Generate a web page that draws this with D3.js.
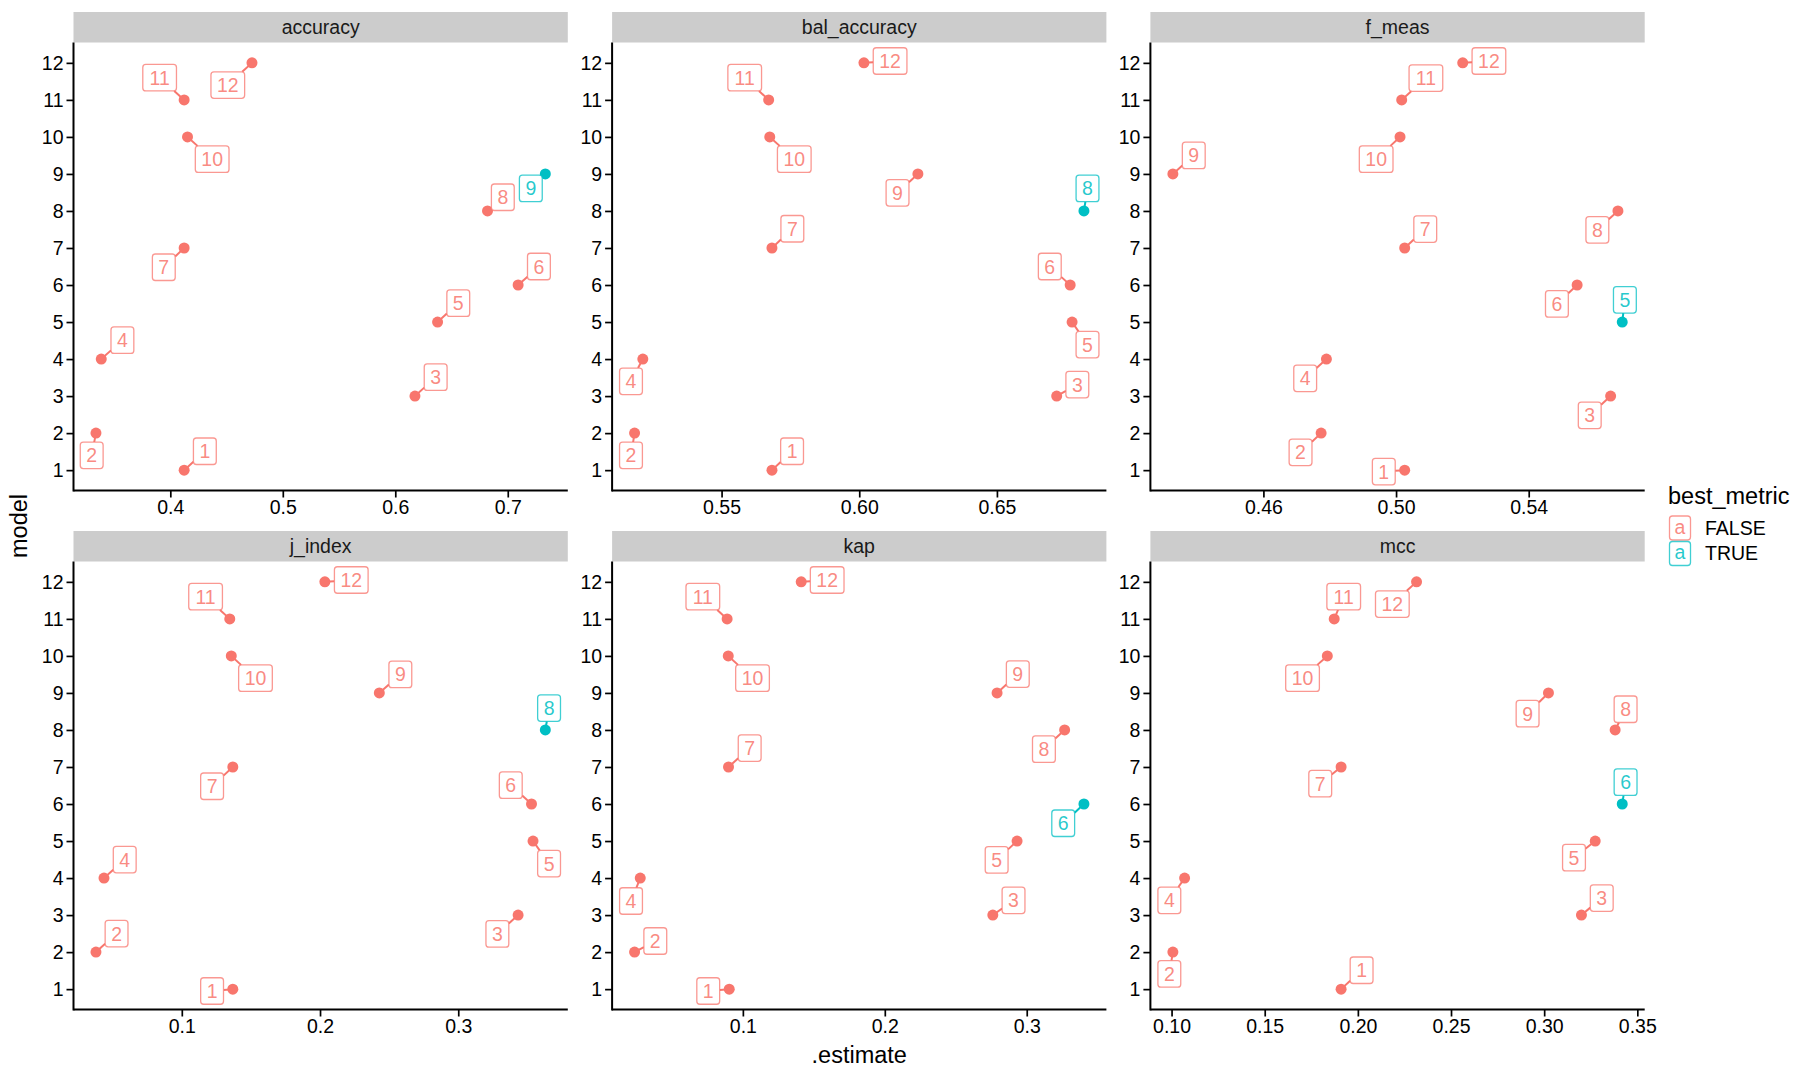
<!DOCTYPE html>
<html>
<head>
<meta charset="utf-8">
<script src="https://cdn.jsdelivr.net/npm/d3@7"></script>
<style>
  html, body { margin: 0; padding: 0; background: #ffffff; }
  svg { display: block; font-family: "Liberation Sans", Arial, Helvetica, sans-serif; }
</style>
</head>
<body>
<svg id="chart" width="1800" height="1080"></svg>
<script>
// ---------------- DATA ----------------
const metrics = ["accuracy", "bal_accuracy", "f_meas", "j_index", "kap", "mcc"];
const models = [1, 2, 3, 4, 5, 6, 7, 8, 9, 10, 11, 12];

// .estimate per model (1..12), per metric
const accuracy     = [0.4123, 0.3339, 0.6175, 0.3386, 0.6376, 0.7092, 0.4123, 0.6820, 0.7334, 0.4153, 0.4123, 0.4726];
const bal_accuracy = [0.5683, 0.5184, 0.6717, 0.5214, 0.6773, 0.6766, 0.5683, 0.6816, 0.6213, 0.5675, 0.5671, 0.6017];
const f_meas       = [0.5026, 0.4774, 0.5647, 0.4790, 0.5682, 0.5546, 0.5026, 0.5669, 0.4327, 0.5012, 0.5017, 0.5201];
const j_index      = [0.1369, 0.0379, 0.3433, 0.0437, 0.3541, 0.3530, 0.1369, 0.3630, 0.2429, 0.1358, 0.1347, 0.2035];
const kap          = [0.0904, 0.0237, 0.2761, 0.0277, 0.2932, 0.3403, 0.0899, 0.3267, 0.2791, 0.0897, 0.0889, 0.1411];
const mcc          = [0.1910, 0.1007, 0.3200, 0.1070, 0.3274, 0.3419, 0.1910, 0.3381, 0.3023, 0.1836, 0.1873, 0.2315];

// repelled label anchor, in data units (estimate, model)
const accuracyLabX     = [0.4307, 0.3301, 0.6359, 0.3574, 0.6560, 0.7277, 0.3942, 0.6956, 0.7205, 0.4372, 0.3905, 0.4511];
const accuracyLabY     = [1.51, 1.40, 3.51, 4.51, 5.51, 6.50, 6.48, 8.37, 8.61, 9.40, 11.60, 11.40];
const bal_accuracyLabX = [0.5756, 0.5171, 0.6792, 0.5171, 0.6829, 0.6692, 0.5757, 0.6829, 0.6139, 0.5764, 0.5584, 0.6112];
const bal_accuracyLabY = [1.51, 1.40, 3.31, 3.40, 4.39, 6.50, 7.52, 8.61, 8.49, 9.40, 11.60, 12.05];
const f_measLabX       = [0.4963, 0.4712, 0.5584, 0.4726, 0.5690, 0.5485, 0.5088, 0.5607, 0.4390, 0.4940, 0.5090, 0.5280];
const f_measLabY       = [0.96, 1.48, 2.48, 3.48, 5.60, 5.49, 7.51, 7.49, 9.50, 9.40, 11.59, 12.05];
const j_indexLabX      = [0.1219, 0.0528, 0.3283, 0.0587, 0.3657, 0.3380, 0.1219, 0.3657, 0.2581, 0.1533, 0.1172, 0.2226];
const j_indexLabY      = [0.95, 2.50, 2.49, 4.50, 4.39, 6.51, 6.48, 8.59, 9.50, 9.40, 11.60, 12.05];
const kapLabX          = [0.0756, 0.0383, 0.2907, 0.0212, 0.2788, 0.3257, 0.1048, 0.3121, 0.2937, 0.1068, 0.0718, 0.1594];
const kapLabY          = [0.95, 2.30, 3.40, 3.38, 4.49, 5.48, 7.51, 7.48, 9.51, 9.40, 11.60, 12.05];
const mccLabX          = [0.2020, 0.0988, 0.3309, 0.0988, 0.3160, 0.3437, 0.1798, 0.3437, 0.2911, 0.1703, 0.1924, 0.2185];
const mccLabY          = [1.51, 1.41, 3.46, 3.40, 4.55, 6.59, 6.55, 8.56, 8.44, 9.40, 11.60, 11.40];

// x tick values per panel
const accuracyTicks     = [0.4, 0.5, 0.6, 0.7];
const bal_accuracyTicks = [0.55, 0.60, 0.65];
const f_measTicks       = [0.46, 0.50, 0.54];
const j_indexTicks      = [0.1, 0.2, 0.3];
const kapTicks          = [0.1, 0.2, 0.3];
const mccTicks          = [0.10, 0.15, 0.20, 0.25, 0.30, 0.35];
const tickDecimals      = [1, 2, 2, 1, 1, 2];
const yTicks = models;

const legendLevels = ["FALSE", "TRUE"];
const legendColors = ["#F8766D", "#00BFC4"];

// ---------------- TABLE ----------------
const estimates = {accuracy, bal_accuracy, f_meas, j_index, kap, mcc};
const labX = {accuracy: accuracyLabX, bal_accuracy: bal_accuracyLabX, f_meas: f_measLabX, j_index: j_indexLabX, kap: kapLabX, mcc: mccLabX};
const labY = {accuracy: accuracyLabY, bal_accuracy: bal_accuracyLabY, f_meas: f_measLabY, j_index: j_indexLabY, kap: kapLabY, mcc: mccLabY};
const xTicks = {accuracy: accuracyTicks, bal_accuracy: bal_accuracyTicks, f_meas: f_measTicks, j_index: j_indexTicks, kap: kapTicks, mcc: mccTicks};

// ---------------- LAYOUT ----------------
const svg = d3.select("#chart");
const colLeft = [73.5, 612.1, 1150.4];
const panelW = 494.3;
const stripTop = [12, 531];
const stripH = 30.5;
const plotH = 448;
const tickFont = 19.5;
const titleFont = 23.5;
const labelFont = 19.5;
const color = d3.scaleOrdinal().domain(legendLevels).range(legendColors);

metrics.forEach((m, i) => {
  const col = i % 3, row = Math.floor(i / 3);
  const x0 = colLeft[col];
  const top = stripTop[row] + stripH;
  const bottom = top + plotH;
  const vals = estimates[m];
  const [mn, mx] = d3.extent(vals);
  const pad = (mx - mn) * 0.05;
  const x = d3.scaleLinear().domain([mn - pad, mx + pad]).range([x0, x0 + panelW]);
  const y = d3.scaleLinear().domain([0.45, 12.55]).range([bottom, top]);
  const g = svg.append("g");

  // strip
  g.append("rect").attr("x", x0).attr("y", stripTop[row]).attr("width", panelW).attr("height", stripH)
    .attr("fill", "#CCCCCC");
  g.append("text").attr("x", x0 + panelW / 2).attr("y", stripTop[row] + stripH / 2).attr("dy", "0.35em")
    .attr("text-anchor", "middle").attr("font-size", tickFont).attr("fill", "#1A1A1A").text(m);

  // axes
  const xAxis = d3.axisBottom(x).tickValues(xTicks[m]).tickSize(7).tickPadding(3)
    .tickFormat(d3.format("." + tickDecimals[i] + "f"));
  const gx = g.append("g").attr("transform", `translate(0,${bottom})`).call(xAxis);
  const yAxis = d3.axisLeft(y).tickValues(yTicks).tickSize(7).tickPadding(3).tickFormat(d3.format("d"));
  const gy = g.append("g").attr("transform", `translate(${x0},0)`).call(yAxis);
  [gx, gy].forEach(ax => {
    ax.select(".domain").remove();
    ax.selectAll(".tick line").attr("stroke", "#000").attr("stroke-width", 1.7);
    ax.selectAll(".tick text").attr("font-size", tickFont).attr("fill", "#000")
      .attr("font-family", "Liberation Sans, Arial, sans-serif");
  });
  g.append("line").attr("x1", x0).attr("x2", x0 + panelW).attr("y1", bottom).attr("y2", bottom)
    .attr("stroke", "#000").attr("stroke-width", 2);
  g.append("line").attr("x1", x0).attr("x2", x0).attr("y1", top).attr("y2", bottom + 1)
    .attr("stroke", "#000").attr("stroke-width", 2);

  // data rows
  const rows = models.map((mod, k) => ({
    model: mod, est: vals[k], lx: labX[m][k], ly: labY[m][k],
    best: vals[k] === mx ? "TRUE" : "FALSE"
  }));

  const boxH = 26.5, padX = 6;
  rows.forEach(r => {
    const txt = String(r.model);
    const w = txt.length * labelFont * 0.556 + 2 * padX;
    r.bw = w; r.bh = boxH;
    r.cx = x(r.lx); r.cy = y(r.ly);
    r.px = x(r.est); r.py = y(r.model);
    const dx = r.cx - r.px, dy = r.cy - r.py;
    const hx = w / 2, hy = boxH / 2;
    const tx = Math.abs(dx) > 1e-6 ? 1 - hx / Math.abs(dx) : -Infinity;
    const ty = Math.abs(dy) > 1e-6 ? 1 - hy / Math.abs(dy) : -Infinity;
    const t = Math.max(tx, ty);
    r.inside = t <= 0;
    r.ex = r.px + dx * t; r.ey = r.py + dy * t;
  });

  // segments
  g.selectAll(".seg").data(rows.filter(r => !r.inside)).enter().append("line")
    .attr("x1", r => r.px).attr("y1", r => r.py).attr("x2", r => r.ex).attr("y2", r => r.ey)
    .attr("stroke", r => color(r.best)).attr("stroke-width", 2);

  // points
  g.selectAll(".pt").data(rows).enter().append("circle")
    .attr("cx", r => r.px).attr("cy", r => r.py).attr("r", 5.5)
    .attr("fill", r => color(r.best));

  // labels
  const lg = g.selectAll(".lab").data(rows).enter().append("g");
  lg.append("rect")
    .attr("x", r => r.cx - r.bw / 2).attr("y", r => r.cy - r.bh / 2)
    .attr("width", r => r.bw).attr("height", r => r.bh).attr("rx", 3).attr("ry", 3)
    .attr("fill", "#fff").attr("stroke", r => color(r.best)).attr("stroke-opacity", 0.75).attr("stroke-width", 1.3);
  lg.append("text").attr("x", r => r.cx).attr("y", r => r.cy).attr("dy", "0.36em")
    .attr("text-anchor", "middle").attr("font-size", labelFont).attr("fill", r => color(r.best))
    .attr("fill-opacity", 0.85).text(r => r.model);
});

// axis titles
svg.append("text").attr("transform", "translate(27,526) rotate(-90)")
  .attr("text-anchor", "middle").attr("font-size", titleFont).attr("fill", "#000").text("model");
svg.append("text").attr("x", colLeft[1] + panelW / 2).attr("y", 1055).attr("dy", "0.35em")
  .attr("text-anchor", "middle").attr("font-size", titleFont).attr("fill", "#000").text(".estimate");

// legend
const leg = svg.append("g");
leg.append("text").attr("x", 1668).attr("y", 496).attr("dy", "0.35em").attr("font-size", titleFont)
  .attr("fill", "#000").text("best_metric");
legendLevels.forEach((lv, k) => {
  const ky = 516 + k * 25.5;
  leg.append("rect").attr("x", 1669.5).attr("y", ky).attr("width", 21).attr("height", 24).attr("rx", 3)
    .attr("fill", "#fff").attr("stroke", color(lv)).attr("stroke-opacity", 0.75).attr("stroke-width", 1.3);
  leg.append("text").attr("x", 1680).attr("y", ky + 12).attr("dy", "0.3em").attr("text-anchor", "middle")
    .attr("font-size", labelFont).attr("fill", color(lv)).attr("fill-opacity", 0.85).text("a");
  leg.append("text").attr("x", 1705).attr("y", ky + 12).attr("dy", "0.35em").attr("font-size", tickFont)
    .attr("fill", "#000").text(lv);
});
</script>
</body>
</html>
